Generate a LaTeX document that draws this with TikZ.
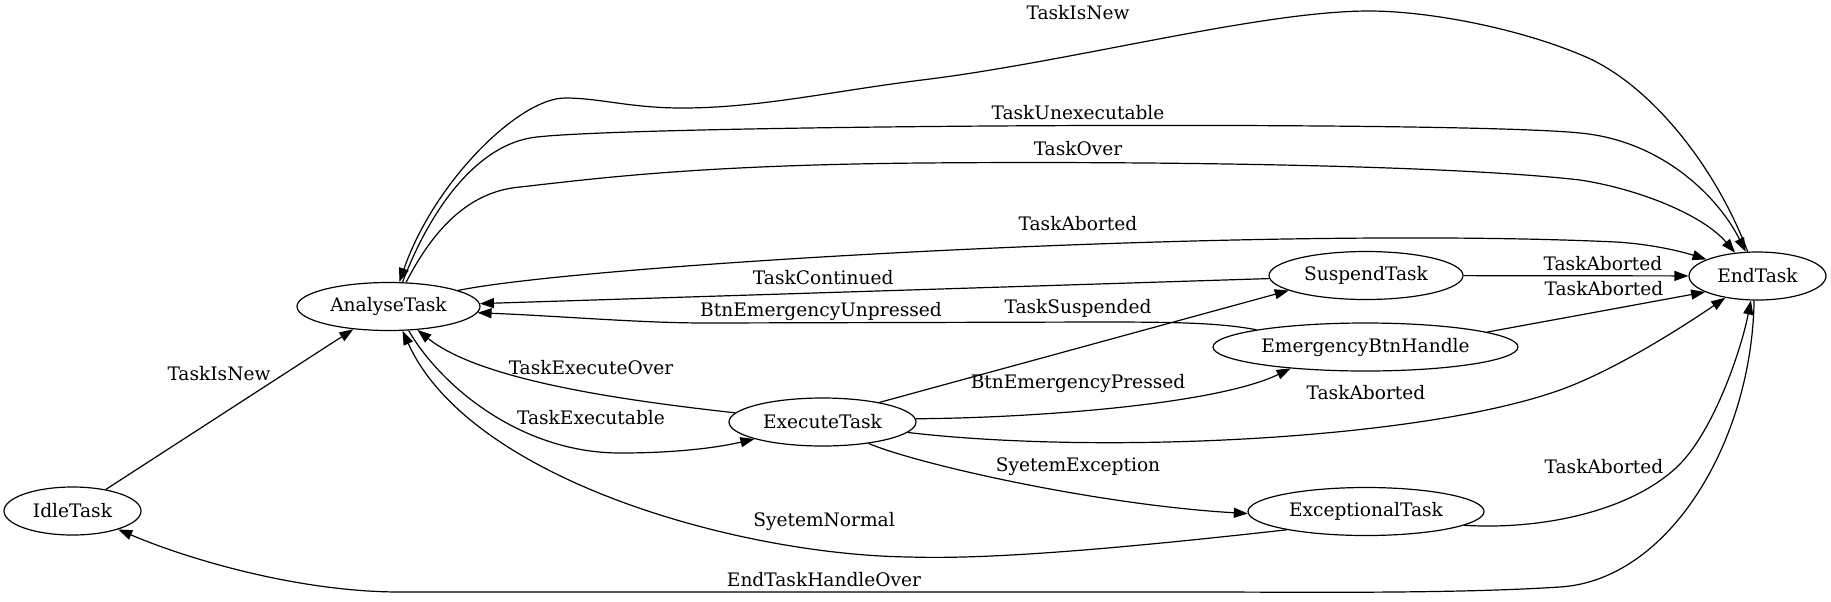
\documentclass[tikz,border=0pt]{standalone}
\usepackage{fontspec}
\setmainfont{DejaVu Serif}
\usetikzlibrary{shapes.geometric,arrows.meta}

\begin{document}
\begin{tikzpicture}[x=0.5pt, y=-0.5pt, line width=0.6pt,
	>={Triangle[length=7pt,width=5pt]},
	font=\fontsize{9.3}{11}\selectfont,
	state/.style={draw, ellipse, inner sep=1pt, minimum height=24pt},
	lbl/.style={inner sep=0pt}]
	\useasboundingbox (0,0) rectangle (1831,601);

	\node[state, minimum width=68.5pt] (IdleTask) at (72.5,511) {IdleTask};
	\node[state, minimum width=91.5pt] (AnalyseTask) at (388.5,306.5) {AnalyseTask};
	\node[state, minimum width=93.5pt] (ExecuteTask) at (822.5,422) {ExecuteTask};
	\node[state, minimum width=97pt] (SuspendTask) at (1366,275.5) {SuspendTask};
	\node[state, minimum width=152.5pt] (EmergencyBtnHandle) at (1365.5,347) {EmergencyBtnHandle};
	\node[state, minimum width=118pt] (ExceptionalTask) at (1366,511.5) {ExceptionalTask};
	\node[state, minimum width=68.5pt] (EndTask) at (1757.5,276) {EndTask};

	\draw[->] (IdleTask) -- (AnalyseTask) node[lbl] at (219,374) {TaskIsNew};

	\draw[->] (EndTask.112) .. controls (1715,165) and (1650,85) .. (1586,57)
		.. controls (1522,29) and (1430,11) .. (1369,11)
		.. controls (1260,11) and (1070,62) .. (922,80)
		.. controls (833,91) and (760,108) .. (682,108)
		.. controls (630,108) and (600,98) .. (565,98)
		.. controls (520,98) and (435,180) .. (AnalyseTask.66)
		node[lbl] at (1078,13) {TaskIsNew};
	\draw[->] (AnalyseTask.60) .. controls (430,210) and (475,148) .. (530,138)
		.. controls (600,125) and (1450,120) .. (1580,133)
		.. controls (1665,141) and (1720,200) .. (EndTask.116)
		node[lbl] at (1078,113) {TaskUnexecutable};
	\draw[->] (AnalyseTask.54) .. controls (428,240) and (462,192) .. (520,187)
		.. controls (600,178) and (700,165) .. (922,163)
		.. controls (1150,161) and (1450,165) .. (1580,180)
		.. controls (1639,189) and (1703,215) .. (EndTask.134)
		node[lbl] at (1078,149) {TaskOver};
	\draw[->] (AnalyseTask.13) .. controls (580,265) and (1250,225) .. (1616,242)
		.. controls (1650,244) and (1680,251) .. (EndTask.162)
		node[lbl] at (1078,224) {TaskAborted};

	\draw[->] (SuspendTask) -- node[lbl, pos=0.62, above=2pt] {TaskAborted} (EndTask);
	\draw[->] (EmergencyBtnHandle.7) -- (EndTask.197) node[lbl] at (1604,289) {TaskAborted};
	\draw[->] (SuspendTask) -- node[lbl, pos=0.565, above=3.9pt] {TaskContinued} (AnalyseTask);
	\draw[->] (EmergencyBtnHandle.171) .. controls (1220,323) and (1180,322) .. (1100,322)
		-- (706,323) .. controls (640,323) and (560,316) .. (AnalyseTask.-4)
		node[lbl] at (821,311) {BtnEmergencyUnpressed};

	\draw[->] (ExecuteTask.19) -- (SuspendTask.191) node[lbl] at (1078,308) {TaskSuspended};
	\draw[->] (ExecuteTask.2) .. controls (1030,418) and (1215,405) .. (EmergencyBtnHandle.196)
		node[lbl] at (1078,383) {BtnEmergencyPressed};
	\draw[->] (ExecuteTask.-7) .. controls (1100,455) and (1420,440) .. (1560,390)
		.. controls (1616,370) and (1687,324) .. (EndTask.214)
		node[lbl] at (1366,393) {TaskAborted};
	\draw[->] (ExecuteTask.-25) .. controls (920,465) and (1100,505) .. (ExceptionalTask.181)
		node[lbl] at (1078,467) {SyetemException};

	\draw[->] (ExceptionalTask.-8) .. controls (1540,530) and (1630,512) .. (1678,466)
		.. controls (1712,433) and (1740,355) .. (EndTask.255)
		node[lbl] at (1604,467) {TaskAborted};
	\draw[->] (EndTask.262) .. controls (1752,440) and (1670,580) .. (1560,587)
		.. controls (1450,594) and (1300,592) .. (1200,592) -- (400,592)
		.. controls (300,592) and (190,560) .. (IdleTask.-22)
		node[lbl] at (824,580) {EndTaskHandleOver};
	\draw[->] (ExceptionalTask.193) .. controls (1150,545) and (1000,560) .. (910,557)
		.. controls (740,555) and (470,480) .. (AnalyseTask.-60)
		node[lbl] at (824,521) {SyetemNormal};

	\draw[->] (ExecuteTask.174) .. controls (620,400) and (480,380) .. (AnalyseTask.-39)
		node[lbl] at (591,368) {TaskExecuteOver};
	\draw[->] (AnalyseTask.-50) .. controls (440,385) and (520,453) .. (620,453)
		.. controls (680,453) and (720,447) .. (ExecuteTask.194)
		node[lbl] at (591,418) {TaskExecutable};
\end{tikzpicture}
\end{document}
